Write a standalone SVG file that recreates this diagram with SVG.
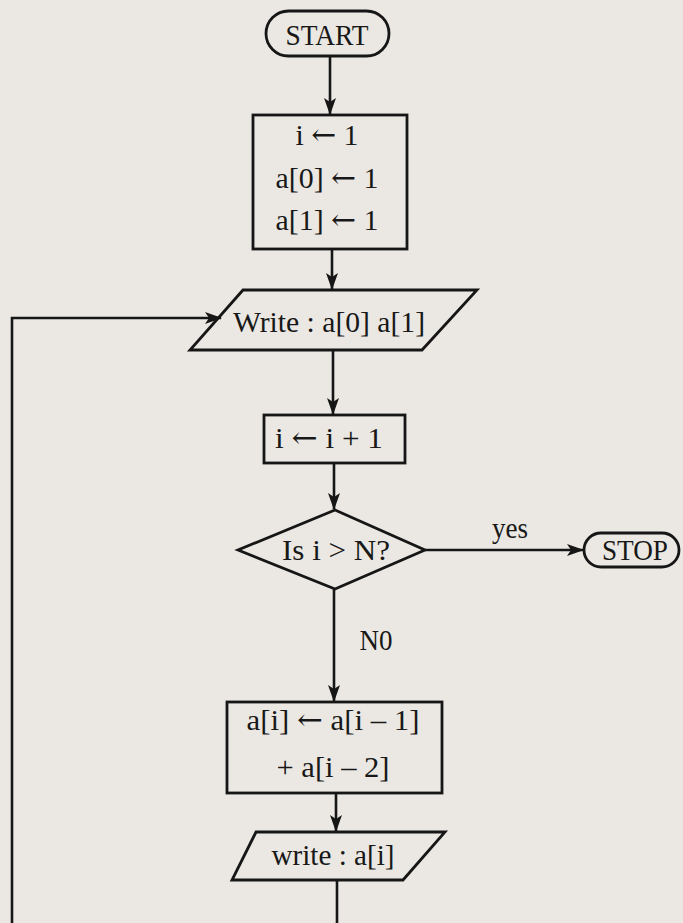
<svg xmlns="http://www.w3.org/2000/svg" width="683" height="923" viewBox="0 0 683 923">
<defs>
<marker id="ah" markerWidth="17" markerHeight="12" refX="16" refY="6" orient="auto" markerUnits="userSpaceOnUse">
<path d="M0,0 L17,6 L0,12 L4,6 Z" fill="#161616"/>
</marker>
<style>
.shape{fill:none;stroke:#161616;stroke-width:2.8}
.conn{fill:none;stroke:#161616;stroke-width:2.6}
text{font-family:"Liberation Serif","Times New Roman",serif;fill:#181818;text-anchor:middle;font-size:29.5px}
.ar{font-family:"DejaVu Serif",serif}
</style>
</defs>
<rect x="0" y="0" width="683" height="923" fill="#ebe8e3"/>
<g id="connectors">
<line class="conn" x1="330" y1="57" x2="330" y2="114" marker-end="url(#ah)"/>
<line class="conn" x1="332" y1="249" x2="332" y2="289" marker-end="url(#ah)"/>
<line class="conn" x1="333" y1="350" x2="333" y2="414" marker-end="url(#ah)"/>
<line class="conn" x1="334" y1="463" x2="334" y2="509" marker-end="url(#ah)"/>
<line class="conn" x1="425" y1="550" x2="583" y2="550" marker-end="url(#ah)"/>
<line class="conn" x1="334" y1="589" x2="334" y2="701" marker-end="url(#ah)"/>
<line class="conn" x1="336" y1="793" x2="336" y2="831" marker-end="url(#ah)"/>
<path class="conn" d="M337 880 V930 H12 V318 H221" marker-end="url(#ah)"/>
<text x="510" y="538" textLength="36" lengthAdjust="spacingAndGlyphs">yes</text>
<text x="376" y="650" textLength="33" lengthAdjust="spacingAndGlyphs">N0</text>
</g>
<g id="start">
<rect class="shape" x="266" y="11" width="123" height="45" rx="22.5"/>
<text x="327" y="45" textLength="83" lengthAdjust="spacingAndGlyphs">START</text>
</g>
<g id="init">
<rect class="shape" x="253" y="115" width="154" height="134"/>
<text x="327" y="145" textLength="63" lengthAdjust="spacingAndGlyphs">i <tspan class="ar">←</tspan> 1</text>
<text x="327" y="188" textLength="103" lengthAdjust="spacingAndGlyphs">a[0] <tspan class="ar">←</tspan> 1</text>
<text x="327" y="230" textLength="103" lengthAdjust="spacingAndGlyphs">a[1] <tspan class="ar">←</tspan> 1</text>
</g>
<g id="write1">
<polygon class="shape" points="243,290 477,290 422,350 190,350"/>
<text x="329" y="332" textLength="192" lengthAdjust="spacingAndGlyphs">Write : a[0] a[1]</text>
</g>
<g id="inc">
<rect class="shape" x="264" y="415" width="141" height="48"/>
<text x="329" y="448" textLength="108" lengthAdjust="spacingAndGlyphs">i <tspan class="ar">←</tspan> i + 1</text>
</g>
<g id="decision">
<polygon class="shape" points="335,510 425,550 335,589 238,550"/>
<text x="336" y="560" textLength="108" lengthAdjust="spacingAndGlyphs">Is i &gt; N?</text>
</g>
<g id="stop">
<rect class="shape" x="584" y="533" width="95" height="34" rx="17"/>
<text x="635" y="560" textLength="66" lengthAdjust="spacingAndGlyphs">STOP</text>
</g>
<g id="compute">
<rect class="shape" x="227" y="702" width="215" height="91"/>
<text x="333" y="730" textLength="173" lengthAdjust="spacingAndGlyphs">a[i] <tspan class="ar">←</tspan> a[i – 1]</text>
<text x="333" y="777" textLength="113" lengthAdjust="spacingAndGlyphs">+ a[i – 2]</text>
</g>
<g id="write2">
<polygon class="shape" points="256,832 445,832 403,880 232,880"/>
<text x="333" y="865" textLength="123" lengthAdjust="spacingAndGlyphs">write : a[i]</text>
</g>
</svg>
